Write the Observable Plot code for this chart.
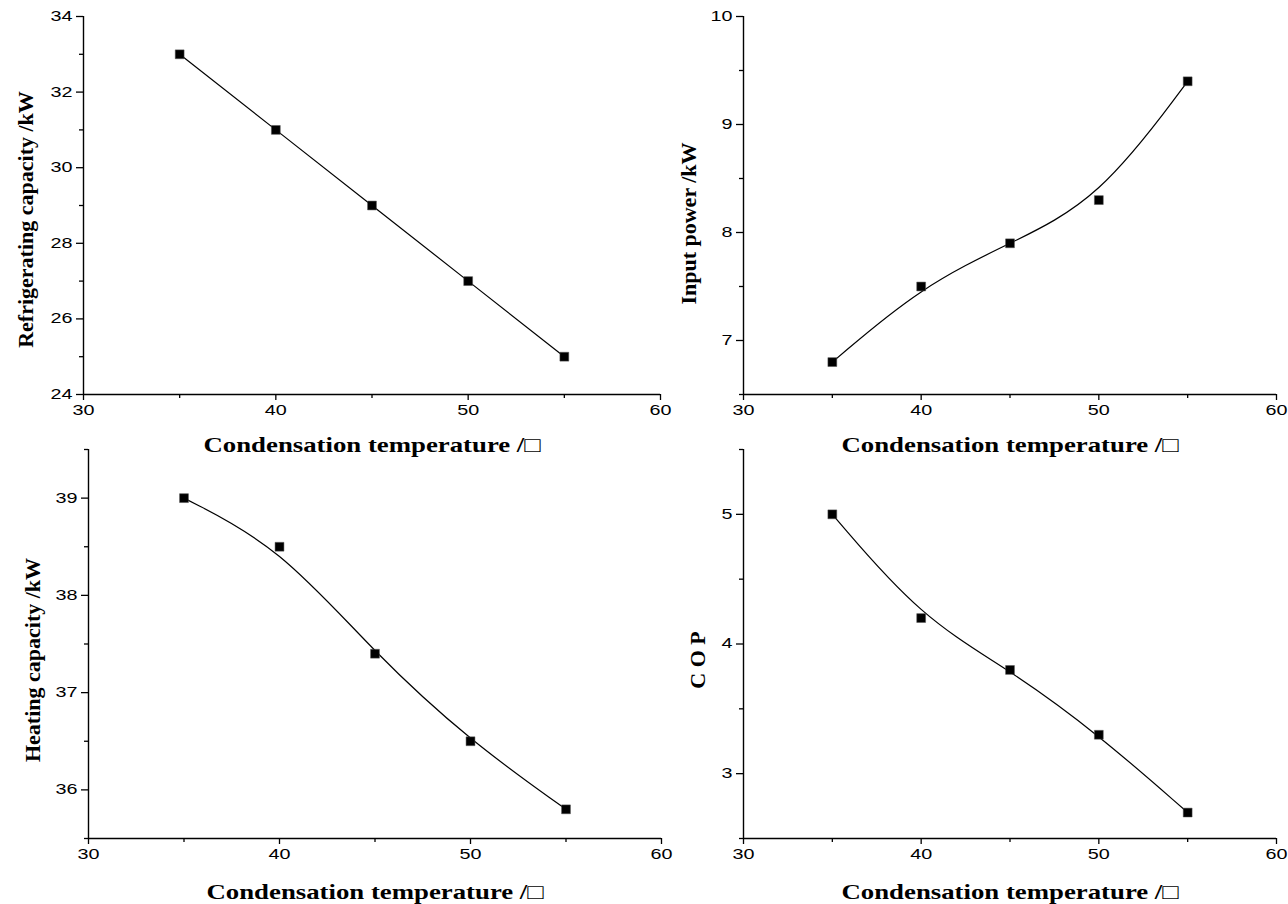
<!DOCTYPE html>
<html>
<head>
<meta charset="utf-8">
<script src="https://cdn.jsdelivr.net/npm/d3@7"></script>
<script src="https://cdn.jsdelivr.net/npm/@observablehq/plot@0.6"></script>
<style>
  html, body { margin: 0; padding: 0; background: #fff; }
  #wrap { position: relative; width: 1288px; height: 904px; overflow: hidden; background: #fff; }
  .panel { position: absolute; }
  .panel svg { overflow: visible; }
</style>
</head>
<body>
<div id="wrap"></div>
<script>
// ---- data ----
const condTemp = [35, 40, 45, 50, 55];
const refrigeratingCapacity = [33, 31, 29, 27, 25];
const inputPower = [6.8, 7.5, 7.9, 8.3, 9.4];
const heatingCapacity = [39, 38.5, 37.4, 36.5, 35.8];
const copValues = [5.0, 4.2, 3.8, 3.3, 2.7];

const xMajorTicks = [30, 40, 50, 60];
const xMinorTicks = [35, 45, 55];

const refrigMajor = [24, 26, 28, 30, 32, 34];
const refrigMinor = [25, 27, 29, 31, 33];
const powerMajor = [7, 8, 9, 10];
const powerMinor = [6.5, 7.5, 8.5, 9.5];
const heatMajor = [36, 37, 38, 39];
const heatMinor = [35.5, 36.5, 37.5, 38.5, 39.5];
const copMajor = [3, 4, 5];
const copMinor = [2.5, 3.5, 4.5, 5.5];

const xTitle = "Condensation temperature /\u25A1";

// ---- drawing ----
function panel(cfg) {
  const rows = condTemp.map((t, i) => ({ t, v: cfg.values[i] }));
  const serif = "'Liberation Serif', 'Times New Roman', serif";
  const sans = "'Liberation Sans', Arial, sans-serif";
  const fmt = d => `${d}`;
  const chart = Plot.plot({
    width: cfg.w, height: cfg.h,
    marginLeft: cfg.ml, marginRight: cfg.mr, marginTop: cfg.mt, marginBottom: cfg.mb,
    style: { fontFamily: sans, fontSize: "14px", color: "black", background: "transparent", overflow: "visible" },
    x: { domain: [30, 60], axis: null },
    y: { domain: cfg.yDomain, axis: null },
    marks: [
      Plot.axisX(xMajorTicks, { tickSize: 6, tickPadding: 5, label: null, strokeWidth: 1.3, fontSize: 14, tickFormat: fmt }),
      Plot.axisX(xMinorTicks, { tickSize: 4, tickFormat: () => "", label: null, strokeWidth: 1.3 }),
      Plot.axisY(cfg.yMajor, { tickSize: 7, tickPadding: 4, label: null, strokeWidth: 1.3, fontSize: 14, tickFormat: fmt }),
      Plot.axisY(cfg.yMinor, { tickSize: 4, tickFormat: () => "", label: null, strokeWidth: 1.3 }),
      Plot.ruleX([30], { stroke: "black", strokeWidth: 1.4 }),
      Plot.ruleY([cfg.yDomain[0]], { stroke: "black", strokeWidth: 1.4 }),
      Plot.line(rows, { x: "t", y: "v", curve: cfg.curve, stroke: "black", strokeWidth: 1.2 }),
      Plot.dot(rows, { x: "t", y: "v", symbol: "square", r: 5, fill: "black", stroke: "#555", strokeWidth: 0.5 }),
      Plot.text([xTitle], { frameAnchor: "bottom", dy: cfg.xTitleDy, lineAnchor: "middle", textAnchor: "middle", fontFamily: serif, fontWeight: "bold", fontSize: 21, fill: "black" }),
      Plot.text([cfg.yTitle], { frameAnchor: "left", rotate: -90, dx: -cfg.yTitleDx, dy: cfg.yTitleDy, lineAnchor: "middle", textAnchor: "middle", fontFamily: serif, fontWeight: "bold", fontSize: 22, fill: "black" })
    ]
  });
  const svg = d3.select(chart);
  const titles = new Set([xTitle, cfg.yTitle]);
  svg.selectAll("text").each(function () {
    const t = this.textContent;
    if (t === xTitle) {
      // widen the x title to the reference's stretched look
      this.setAttribute("textLength", 337);
      this.setAttribute("lengthAdjust", "spacingAndGlyphs");
    } else if (!titles.has(t) && t.length) {
      // tick labels: horizontally stretched, as in the reference
      this.setAttribute("font-size", 14);
      this.style.fontSize = "14px";
      this.setAttribute("textLength", 11 * t.length);
      this.setAttribute("lengthAdjust", "spacingAndGlyphs");
    }
  });
  const div = document.createElement("div");
  div.className = "panel";
  div.style.left = cfg.left + "px";
  div.style.top = cfg.top + "px";
  div.appendChild(chart);
  document.getElementById("wrap").appendChild(div);
}

panel({ values: refrigeratingCapacity, yDomain: [24, 34], yMajor: refrigMajor, yMinor: refrigMinor,
  yTitle: "Refrigerating capacity /kW", curve: "linear",
  left: 0, top: 0, w: 680, h: 460, ml: 83, mr: 20, mt: 16, mb: 66,
  xTitleDy: 51, yTitleDx: 58, yTitleDy: 14 });

panel({ values: inputPower, yDomain: [6.5, 10], yMajor: powerMajor, yMinor: powerMinor,
  yTitle: "Input power /kW", curve: "basis",
  left: 640, top: 0, w: 648, h: 460, ml: 103, mr: 12, mt: 16, mb: 66,
  xTitleDy: 51, yTitleDx: 55, yTitleDy: 18 });

panel({ values: heatingCapacity, yDomain: [35.5, 39.5], yMajor: heatMajor, yMinor: heatMinor,
  yTitle: "Heating capacity /kW", curve: "basis",
  left: 0, top: 440, w: 680, h: 464, ml: 88, mr: 19, mt: 9, mb: 66,
  xTitleDy: 54, yTitleDx: 56, yTitleDy: 16 });

panel({ values: copValues, yDomain: [2.5, 5.5], yMajor: copMajor, yMinor: copMinor,
  yTitle: "C O P", curve: "basis",
  left: 640, top: 440, w: 648, h: 464, ml: 103, mr: 12, mt: 9, mb: 66,
  xTitleDy: 54, yTitleDx: 46, yTitleDy: 16 });
</script>
</body>
</html>
